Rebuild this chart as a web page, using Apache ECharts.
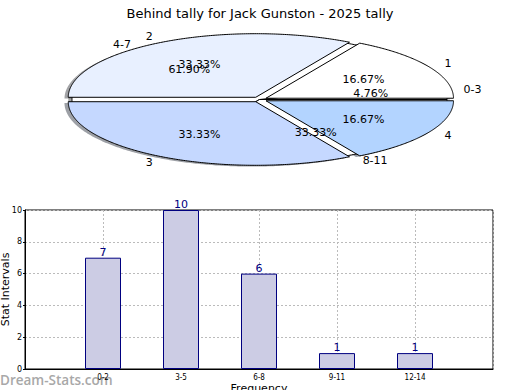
<!DOCTYPE html>
<html><head><meta charset="utf-8">
<script src="https://cdn.jsdelivr.net/npm/echarts@6/dist/echarts.min.js"></script>
<style>html,body{margin:0;padding:0;background:#fff}#c{width:520px;height:390px}</style>
</head><body><div id="c"></div>
<script>
const chartTitle = 'Behind tally for Jack Gunston - 2025 tally';
const outerLabels = ['0-3', '4-7', '8-11'];
const outerValues = [1, 13, 7];
const innerLabels = ['1', '2', '3', '4'];
const innerValues = [1, 2, 2, 1];
const barCategories = ['0-2', '3-5', '6-8', '9-11', '12-14'];
const barValues = [7, 10, 6, 1, 1];
const yAxisName = 'Stat Intervals';
const xAxisName = 'Frequency';
const watermark = 'Dream-Stats.com';

const outerColors = ['#ffffff', '#ffffff', '#ffffff'];
const innerColors = ['#ffffff', '#e8f0ff', '#c5d8ff', '#b3d4ff'];
const FONT = 'DejaVu Sans';
const PIE = {cx: 259.5, cy: 99.5, rx: 187.5, ry: 63.6};

function wedge(values, i, explode, dx, dy) {
  const total = values.reduce((a, b) => a + b, 0);
  let before = 0;
  for (let k = 0; k < i; k++) before += values[k];
  const a0 = before / total * 2 * Math.PI, a1 = (before + values[i]) / total * 2 * Math.PI;
  const mid = (a0 + a1) / 2;
  const ox = PIE.cx + explode * PIE.rx * Math.cos(mid) + dx;
  const oy = PIE.cy - explode * PIE.ry * Math.sin(mid) + dy;
  const pts = [[ox, oy]];
  const n = Math.max(8, Math.ceil((a1 - a0) / 0.01));
  for (let k = 0; k <= n; k++) {
    const a = a0 + (a1 - a0) * k / n;
    pts.push([ox + PIE.rx * Math.cos(a), oy - PIE.ry * Math.sin(a)]);
  }
  return {pts, mid, ox, oy, pct: values[i] / total * 100};
}

function shade(hex) {
  const r = parseInt(hex.slice(1, 3), 16), g = parseInt(hex.slice(3, 5), 16), b = parseInt(hex.slice(5, 7), 16);
  return 'rgba(' + Math.round(r * 0.3) + ',' + Math.round(g * 0.3) + ',' + Math.round(b * 0.3) + ',0.5)';
}

function shadowSeries(labels, values, colors, explode, z) {
  return {
    type: 'custom', coordinateSystem: 'none', z, silent: true,
    data: values.map((v, i) => ({name: labels[i], value: v})),
    renderItem(params) {
      const i = params.dataIndex;
      const w = wedge(values, i, explode, -0.02 * PIE.rx, 0.02 * PIE.ry);
      return {type: 'polygon', shape: {points: w.pts}, style: {fill: shade(colors[i]), stroke: 'none'}};
    }
  };
}

function wedgeSeries(labels, values, colors, explode, z) {
  return {
    type: 'custom', coordinateSystem: 'none', z,
    data: values.map((v, i) => ({name: labels[i], value: v})),
    renderItem(params) {
      const i = params.dataIndex;
      const w = wedge(values, i, explode, 0, 0);
      return {type: 'polygon', shape: {points: w.pts}, style: {fill: colors[i], stroke: '#000', lineWidth: 1, lineJoin: 'miter'}};
    }
  };
}

function labelSeries(labels, values, explode, z) {
  return {
    type: 'custom', coordinateSystem: 'none', z, silent: true,
    data: values.map((v, i) => ({name: labels[i], value: v})),
    renderItem(params) {
      const i = params.dataIndex;
      const w = wedge(values, i, explode, 0, 0);
      const c = Math.cos(w.mid), s = Math.sin(w.mid);
      const lx = w.ox + 1.1 * PIE.rx * c, ly = w.oy - 1.1 * PIE.ry * s;
      const px = w.ox + 0.6 * PIE.rx * c, py = w.oy - 0.6 * PIE.ry * s;
      return {type: 'group', children: [
        {type: 'text', style: {text: labels[i], x: lx, y: ly, align: c > 0 ? 'left' : 'right', verticalAlign: 'middle', fontSize: 11, fontFamily: FONT, fill: '#000'}},
        {type: 'text', style: {text: w.pct.toFixed(2) + '%', x: px, y: py, align: 'center', verticalAlign: 'middle', fontSize: 11, fontFamily: FONT, fill: '#000'}}
      ]};
    }
  };
}

const EXPLODE = 0.04;
const chart = echarts.init(document.getElementById('c'), null, {renderer: 'svg'});
chart.setOption({
  animation: false,
  backgroundColor: '#fff',
  title: {text: chartTitle, left: 'center', top: 2, textStyle: {fontFamily: FONT, fontSize: 13, fontWeight: 'normal', color: '#000'}},
  graphic: [{type: 'text', left: 0, top: 373, style: {text: watermark, fontFamily: 'Open Sans', fontWeight: 600, fontSize: 13.5, fill: '#a8a8a8'}}],
  grid: {left: 25, right: 27, top: 210, bottom: 21, outerBoundsMode: 'none', containLabel: false, show: true, borderColor: '#000', borderWidth: 1, backgroundColor: 'transparent'},
  xAxis: {
    type: 'category', boundaryGap: false,
    data: [''].concat(barCategories, ['']),
    name: xAxisName, nameLocation: 'middle', nameGap: 14, nameMoveOverlap: false,
    nameTextStyle: {fontFamily: FONT, fontSize: 11, color: '#000', verticalAlign: 'top'},
    axisLine: {lineStyle: {color: '#000'}},
    axisTick: {show: false},
    axisLabel: {interval: 0, fontFamily: 'DejaVu Sans Condensed', fontSize: 8, color: '#000', margin: 4},
    splitLine: {show: true, lineStyle: {color: '#bbb', type: [2, 2]}}
  },
  yAxis: {
    type: 'value', min: 0, max: 10, interval: 2,
    name: yAxisName, nameLocation: 'middle', nameGap: 14, nameRotate: 90, nameMoveOverlap: false,
    nameTextStyle: {fontFamily: FONT, fontSize: 11, color: '#000'},
    axisLine: {show: true, lineStyle: {color: '#000'}},
    axisTick: {show: true, length: 2, lineStyle: {color: '#000'}},
    axisLabel: {fontFamily: FONT, fontSize: 8, color: '#000', margin: 3},
    splitLine: {show: true, lineStyle: {color: '#bbb', type: [2, 2]}}
  },
  series: [
    shadowSeries(outerLabels, outerValues, outerColors, 0, 1),
    shadowSeries(innerLabels, innerValues, innerColors, EXPLODE, 1),
    wedgeSeries(outerLabels, outerValues, outerColors, 0, 2),
    wedgeSeries(innerLabels, innerValues, innerColors, EXPLODE, 3),
    labelSeries(outerLabels, outerValues, 0, 4),
    labelSeries(innerLabels, innerValues, EXPLODE, 4),
    {
      type: 'bar', z: 2,
      data: [null].concat(barValues, [null]),
      barWidth: 36,
      itemStyle: {color: '#ccccE4', borderColor: '#000080', borderWidth: 1},
      label: {show: true, position: 'top', distance: 0, color: '#000080', fontFamily: FONT, fontSize: 11}
    }
  ]
});
</script></body></html>
